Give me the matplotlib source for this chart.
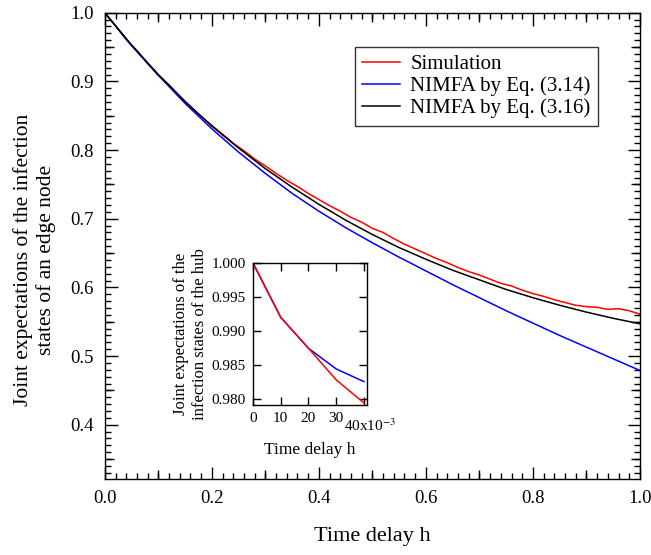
import numpy as np
import matplotlib
matplotlib.use("Agg")
import matplotlib.pyplot as plt
import matplotlib.transforms as mtransforms
from matplotlib.ticker import MultipleLocator

plt.rcParams['font.family'] = ['Liberation Serif', 'DejaVu Serif']
plt.rcParams['mathtext.fontset'] = 'stix'

# main panel: joint expectation vs time delay h
h = np.round(np.arange(0, 1.0001, 0.02), 2)

sim = [1.000, 0.981, 0.961, 0.945, 0.926, 0.909, 0.895, 0.878, 0.862, 0.849,
       0.836, 0.823, 0.810, 0.799, 0.787, 0.777, 0.766, 0.756, 0.747, 0.737,
       0.728, 0.719, 0.711, 0.702, 0.695, 0.686, 0.680, 0.671, 0.663, 0.656,
       0.649, 0.642, 0.636, 0.629, 0.623, 0.618, 0.612, 0.606, 0.602, 0.596,
       0.591, 0.587, 0.582, 0.578, 0.574, 0.572, 0.571, 0.568, 0.569, 0.566,
       0.561]

h_eq = [0.0, 0.05, 0.1, 0.15, 0.2, 0.25, 0.3, 0.35, 0.4, 0.45, 0.5,
        0.55, 0.6, 0.65, 0.7, 0.75, 0.8, 0.85, 0.9, 0.95, 1.0]
nimfa_314 = [1.000, 0.952, 0.909, 0.868, 0.831, 0.797, 0.766, 0.737, 0.711,
             0.687, 0.665, 0.644, 0.624, 0.604, 0.585, 0.566, 0.548, 0.530,
             0.513, 0.496, 0.479]
nimfa_316 = [1.000, 0.953, 0.910, 0.871, 0.835, 0.803, 0.773, 0.746, 0.721,
             0.698, 0.677, 0.658, 0.641, 0.625, 0.611, 0.597, 0.585, 0.574,
             0.564, 0.555, 0.547]

# inset: the hub
h_hub = [0.0, 0.01, 0.02, 0.03, 0.04]
hub_sim = [1.000, 0.9920, 0.98745, 0.9828, 0.9794]
hub_314 = [1.000, 0.9920, 0.98745, 0.9844, 0.98254]
hub_ticklabels = ["0", "10", "20", "30", "40x10$^{-3}$"]

fig = plt.figure(figsize=(6.51, 5.55), dpi=100)
rect = [0.161, 0.137, 0.822, 0.840]
ax = fig.add_axes(rect)

ax.plot(h, sim, color="#ff0000", lw=1.1, label="Simulation")
ax.plot(h_eq, nimfa_314, color="#0000ff", lw=1.1, label="NIMFA by Eq. (3.14)")
ax.plot(h_eq, nimfa_316, color="black", lw=1.1, label="NIMFA by Eq. (3.16)")

xlim = (0, 1.0)
ylim = (0.321, 1.0)
ax.set_xlim(xlim)
ax.set_ylim(ylim)
ax.xaxis.set_major_locator(MultipleLocator(0.2))
ax.xaxis.set_minor_locator(MultipleLocator(0.02))
ax.yaxis.set_major_locator(MultipleLocator(0.1))
ax.yaxis.set_minor_locator(MultipleLocator(0.01))
ax.xaxis.set_major_formatter(plt.FormatStrFormatter("%.1f"))
ax.yaxis.set_major_formatter(plt.FormatStrFormatter("%.1f"))
ax.tick_params(which="both", direction="in", top=True, right=True,
               labelsize=13.5, width=1)
ax.tick_params(which="major", length=9, pad=8)
ax.tick_params(which="minor", length=4.5)
for s in ax.spines.values():
    s.set_linewidth(1)

# Igor-style medium ticks halfway between the majors
mid = fig.add_axes(rect, frameon=False)
mid.patch.set_visible(False)
mid.set_xlim(xlim)
mid.set_ylim(ylim)
mid.set_xticks(np.arange(0.1, 1.0, 0.2))
mid.set_yticks(np.arange(0.35, 1.0, 0.1))
mid.tick_params(direction="in", top=True, right=True, length=6.5, width=1,
                labelbottom=False, labelleft=False)

ax.set_xlabel("Time delay h", fontsize=16, labelpad=14)
ax.set_ylabel("Joint expectations of the infection\nstates of an edge node",
              fontsize=15.5, labelpad=10)
ax.yaxis.label.set_y(0.47)

leg = ax.legend(loc="upper right", bbox_to_anchor=(0.9215, 0.9264),
                fontsize=15, frameon=True, fancybox=False, handlelength=1.8,
                borderpad=0.35, labelspacing=0.12, handletextpad=0.5,
                borderaxespad=0)
leg.get_frame().set_edgecolor("black")
leg.get_frame().set_linewidth(1)

ins = fig.add_axes([0.3886, 0.2703, 0.1751, 0.2559])
ins.plot(h_hub, hub_314, color="#0000ff", lw=1.1)
ins.plot(h_hub, hub_sim, color="#ff0000", lw=1.1)
ins.set_xlim(0, 0.0411)
ins.set_ylim(0.9791, 1.0)
ins.set_xticks(h_hub)
ins.set_xticklabels(hub_ticklabels)
ins.set_yticks([0.980, 0.985, 0.990, 0.995, 1.000])
ins.yaxis.set_major_formatter(plt.FormatStrFormatter("%.3f"))
ins.tick_params(direction="in", top=True, right=True, labelsize=11,
                length=6, width=1, pad=5)
for s in ins.spines.values():
    s.set_linewidth(1)

# the exponent label sits a bit lower and to the right, as in the original
last = ins.get_xticklabels()[-1]
last.set_transform(last.get_transform() +
                   mtransforms.ScaledTranslation(6 / 100, -5 / 100,
                                                 fig.dpi_scale_trans))

ins.set_xlabel("Time delay h", fontsize=12.5, labelpad=6)
ins.set_ylabel("Joint expectations of the\ninfection states of the hub",
               fontsize=12, labelpad=3)

fig.savefig("out.png", dpi=100)
